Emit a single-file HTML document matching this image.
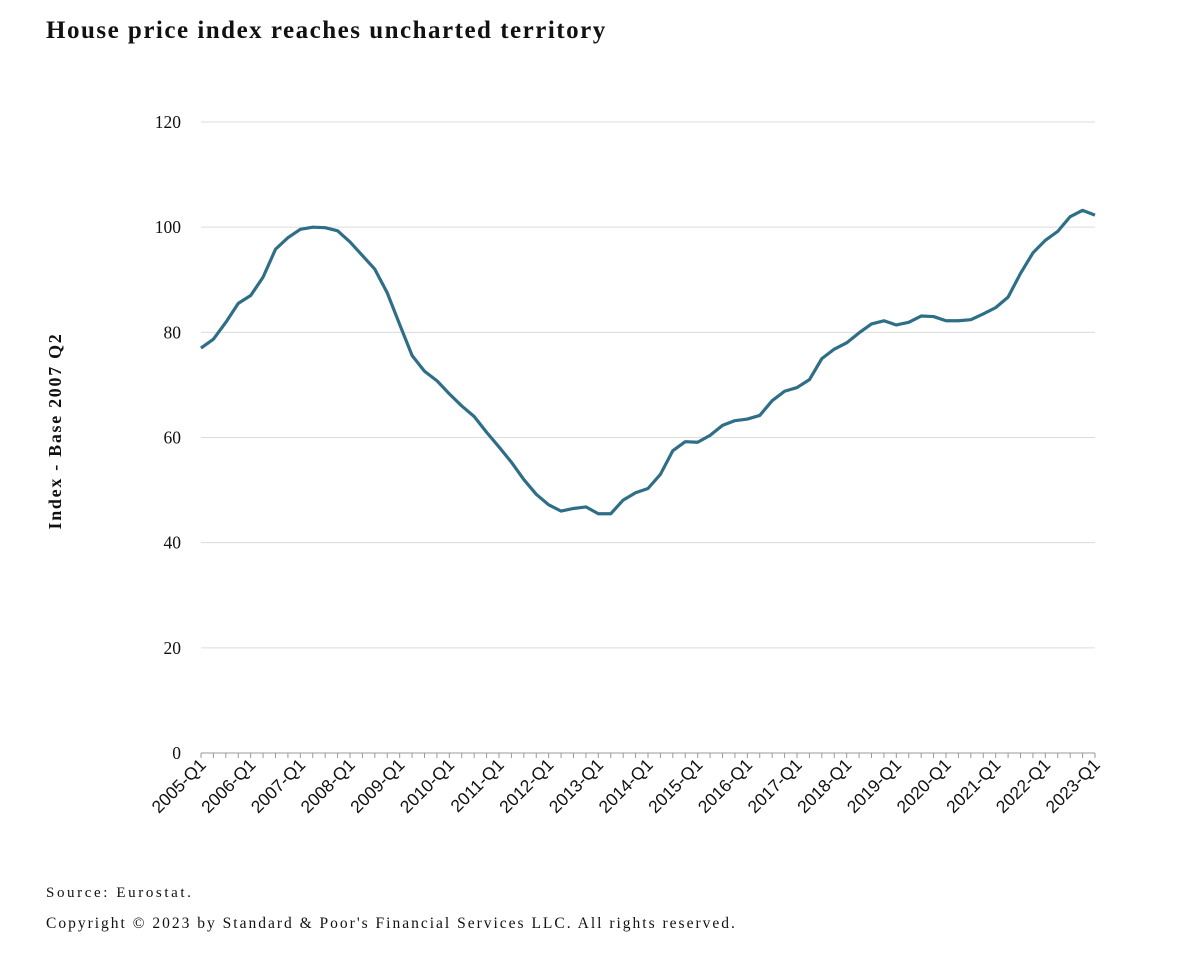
<!DOCTYPE html>
<html><head><meta charset="utf-8"><style>
body{margin:0;background:#fff;width:1186px;height:964px;overflow:hidden;font-family:"Liberation Serif",serif;}
</style></head><body>
<svg id="chart" width="1186" height="964" xmlns="http://www.w3.org/2000/svg">
<text x="46" y="38" font-family="Liberation Serif,serif" font-weight="bold" font-size="25" letter-spacing="1.5" fill="#111">House price index reaches uncharted territory</text>
<text transform="translate(61,431) rotate(-90)" text-anchor="middle" font-family="Liberation Serif,serif" font-weight="bold" font-size="18" letter-spacing="1.7" fill="#111">Index - Base 2007 Q2</text>
<g id="grid"></g><g id="xaxis"></g><g id="series"></g>
<text x="46" y="897" font-size="15" letter-spacing="2.6" fill="#111">Source: Eurostat.</text>
<text x="46" y="928" font-size="15.5" letter-spacing="2.0" fill="#111">Copyright © 2023 by Standard &amp; Poor's Financial Services LLC. All rights reserved.</text>
</svg>
<script>
const yTicks=[0,20,40,60,80,100,120];
const startYear=2005;
const values=[77,78.7,81.9,85.5,87,90.5,95.8,98,99.6,100,99.9,99.3,97.2,94.6,92,87.5,81.5,75.6,72.6,70.8,68.3,66,64,61,58.2,55.3,52,49.2,47.2,46,46.5,46.8,45.5,45.5,48.1,49.5,50.3,53,57.5,59.2,59.1,60.4,62.3,63.2,63.5,64.2,67,68.8,69.5,71,75,76.8,78,79.9,81.6,82.2,81.4,81.9,83.1,83,82.2,82.2,82.4,83.5,84.7,86.7,91.2,95.1,97.5,99.2,102,103.2,102.3];
const NS="http://www.w3.org/2000/svg";
const x0=201,x1=1095,y0=753,y1=122;
const n=values.length;
const xs=i=>x0+(x1-x0)*i/(n-1);
const ys=v=>y0-(y0-y1)*v/120;
function mk(t,a,p){const e=document.createElementNS(NS,t);for(const k in a)e.setAttribute(k,a[k]);p.appendChild(e);return e;}
const grid=document.getElementById('grid');
yTicks.forEach(v=>{
  if(v>0){const l=mk('line',{x1:x0,x2:x1,y1:ys(v),y2:ys(v),stroke:'#dcdcdc','stroke-width':1},grid);
  
  }
  const t=mk('text',{x:181,y:ys(v)+6,'text-anchor':'end','font-size':17.5,fill:'#111'},grid);
  t.textContent=v;
  
  
});
const xa=document.getElementById('xaxis');
const ax=mk('line',{x1:x0,x2:x1,y1:y0,y2:y0,stroke:'#999','stroke-width':1},xa);


for(let i=0;i<n;i++){
  const tk=mk('line',{x1:xs(i),x2:xs(i),y1:y0,y2:y0+5,stroke:'#999','stroke-width':1},xa);
  
  
  if(i%4===0){
    const t=mk('text',{transform:`translate(${xs(i)+6},${y0+13}) rotate(-45)`,'text-anchor':'end','font-family':'Liberation Sans,sans-serif','font-size':17.5,fill:'#111'},xa);
    t.textContent=(startYear+i/4)+'-Q1';
    
    
  }
}
const s=document.getElementById('series');
const p=mk('polyline',{points:values.map((v,i)=>xs(i)+','+ys(v)).join(' '),fill:'none',stroke:'#2e6e87','stroke-width':3.2,'stroke-linejoin':'round'},s);


</script>
</body></html>
